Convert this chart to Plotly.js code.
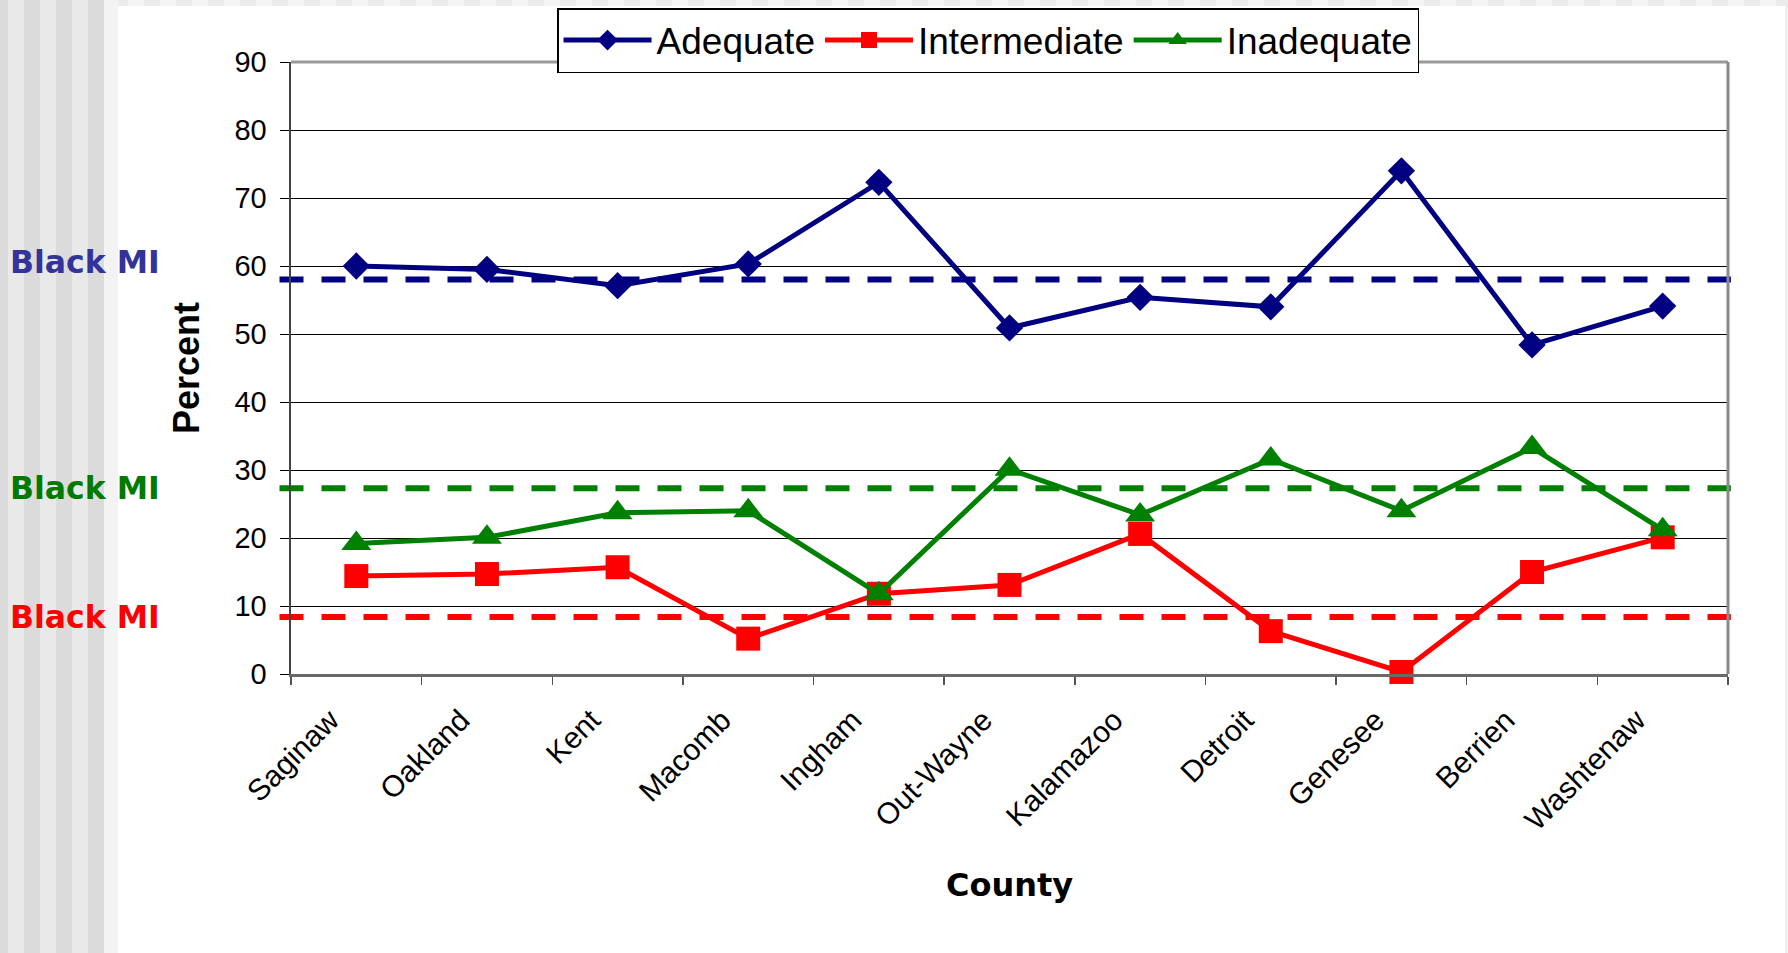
<!DOCTYPE html>
<html>
<head>
<meta charset="utf-8">
<script src="https://cdn.plot.ly/plotly-3.0.1.min.js"></script>
<style>
  html, body { margin: 0; padding: 0; width: 1788px; height: 953px; overflow: hidden; }
  body {
    background-color: #f0f0f0;
    background-image: repeating-linear-gradient(90deg, #f4f4f4 0 16px, #ececec 16px 32px);
    background-size: 1788px 6px;
    background-repeat: no-repeat;
  }
  #left { position: absolute; left: 0; top: 0; width: 104px; height: 953px;
    background-image: repeating-linear-gradient(90deg, #dbdbdb 0 8px, #e9e9e9 8px 24px, #dbdbdb 24px 32px);
  }
  #leftfade { position: absolute; left: 104px; top: 0; width: 14px; height: 953px; background: #f3f3f3; }
  #panel { position: absolute; left: 118px; top: 6px; width: 1667px; height: 947px; background: #ffffff; }
  #chart { position: absolute; left: 0; top: 0; width: 1788px; height: 953px; }
</style>
</head>
<body>
<div id="left"></div>
<div id="leftfade"></div>
<div id="panel"></div>
<div id="chart"></div>
<script>
// ---- data ----
const counties = ["Saginaw", "Oakland", "Kent", "Macomb", "Ingham", "Out-Wayne",
                  "Kalamazoo", "Detroit", "Genesee", "Berrien", "Washtenaw"];
const adequate     = [60.0, 59.5, 57.1, 60.3, 72.3, 50.9, 55.4, 54.0, 74.0, 48.4, 54.1];
const intermediate = [14.4, 14.7, 15.7, 5.2, 11.8, 13.1, 20.6, 6.3, 0.3, 15.0, 20.1];
const inadequate   = [19.2, 20.1, 23.7, 24.0, 11.8, 30.1, 23.4, 31.6, 24.0, 33.3, 21.2];
const seriesNames  = ["Adequate", "Intermediate", "Inadequate"];
const blackMI      = [58.0, 8.4, 27.3];   // Black MI reference: Adequate, Intermediate, Inadequate
const blackMILabel = "Black MI";
const yTicks       = [0, 10, 20, 30, 40, 50, 60, 70, 80, 90];

// ---- styles ----
const colors  = ["#000080", "#ff0000", "#008000"];
const labelColors = ["#333399", "#ff0000", "#007a00"];
const symbols = ["diamond", "square", "triangle-up"];
const sizes   = [21, 24, 26];
const labelShift = [18, 0, 0];
const FONT = "Liberation Sans, Arial, sans-serif";

const seriesValues = [adequate, intermediate, inadequate];
const traces = seriesValues.map((vals, i) => ({
  type: "scatter",
  mode: "lines+markers",
  name: seriesNames[i],
  x: counties,
  y: vals,
  line: { color: colors[i], width: 5 },
  marker: { color: colors[i], symbol: symbols[i], size: sizes[i] },
  cliponaxis: false
}));

const shapes = [];
blackMI.forEach((v, i) => {
  shapes.push({
    type: "line", xref: "paper", yref: "y",
    x0: -0.008, x1: 1.002, y0: v, y1: v,
    line: { color: colors[i], width: 6, dash: "24px,18px" },
    layer: "between"
  });
});
// frame (top and right border)
shapes.push({ type: "line", xref: "paper", yref: "paper", x0: 0, x1: 1, y0: 1, y1: 1,
              line: { color: "#9a9a9a", width: 3 }, layer: "above" });
shapes.push({ type: "line", xref: "paper", yref: "paper", x0: 1, x1: 1, y0: 0, y1: 1,
              line: { color: "#8a8a8a", width: 3 }, layer: "above" });

const annotations = blackMI.map((v, i) => ({
  xref: "paper", yref: "y", x: -0.197, y: v, yshift: labelShift[i],
  xanchor: "left", yanchor: "middle", showarrow: false,
  text: "<b>" + blackMILabel + "</b>",
  font: { family: "DejaVu Sans, Verdana, sans-serif", size: 31.5, color: labelColors[i] }
}));

const layout = {
  width: 1788, height: 953,
  margin: { l: 291, r: 60, t: 62, b: 279, pad: 0, autoexpand: false },
  paper_bgcolor: "rgba(0,0,0,0)",
  plot_bgcolor: "#ffffff",
  font: { family: FONT, color: "#000000" },
  showlegend: true,
  legend: {
    orientation: "h",
    xref: "container", yref: "container",
    x: 0.5526, xanchor: "center",
    y: 0.9916, yanchor: "top",
    bgcolor: "#ffffff", bordercolor: "#000000", borderwidth: 1.5,
    font: { family: FONT, size: 37, color: "#000000" },
    itemwidth: 88,
    traceorder: "normal"
  },
  xaxis: {
    type: "category",
    categoryorder: "array", categoryarray: counties,
    range: [-0.5, counties.length - 0.5],
    tickson: "boundaries",
    ticks: "outside", ticklen: 8, tickwidth: 1.5, tickcolor: "#555555",
    showgrid: false, zeroline: false,
    showline: true, linecolor: "#6a6a6a", linewidth: 2.5,
    tickangle: -45,
    ticklabelshift: -26, ticklabelstandoff: 14,
    tickfont: { family: FONT, size: 30, color: "#000000" },
    title: { text: "<b>County</b>", font: { family: "DejaVu Sans, Verdana, sans-serif", size: 32, color: "#000000" }, standoff: 38 },
    fixedrange: true
  },
  yaxis: {
    range: [0, 90],
    tickmode: "array", tickvals: yTicks, ticktext: yTicks.map(String),
    ticks: "outside", ticklen: 9, tickwidth: 1, tickcolor: "#000000",
    ticklabelstandoff: 7,
    showgrid: true, gridcolor: "#000000", gridwidth: 1,
    zeroline: false,
    showline: true, linecolor: "#444444", linewidth: 2.5,
    tickfont: { family: FONT, size: 29, color: "#000000" },
    title: { text: "<b>Percent</b>", font: { family: FONT, size: 36, color: "#000000" }, standoff: 24 },
    fixedrange: true
  },
  shapes: shapes,
  annotations: annotations
};

Plotly.newPlot("chart", traces, layout, { displayModeBar: false, staticPlot: true });
</script>
</body>
</html>
